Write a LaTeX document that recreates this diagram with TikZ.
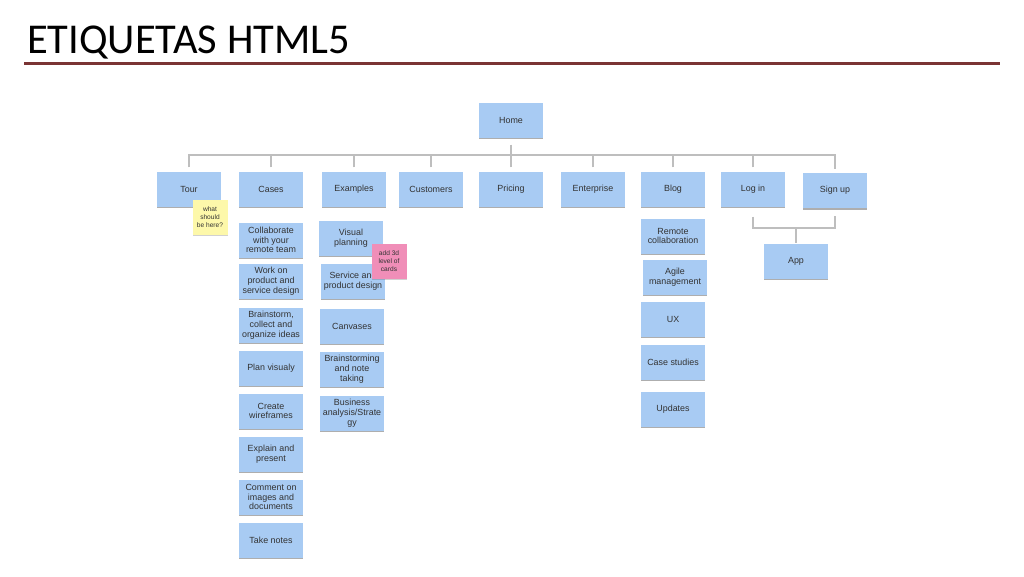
\documentclass[tikz,border=0pt]{standalone}
\usepackage{fontspec}
\setmainfont{Liberation Sans}
\newfontfamily\titlefont{Carlito}
\usetikzlibrary{shadows}
\definecolor{cardblue}{RGB}{168,203,243}
\definecolor{noteyellow}{RGB}{253,248,170}
\definecolor{notepink}{RGB}{240,142,184}
\definecolor{rulered}{RGB}{122,52,52}
\definecolor{linkgray}{RGB}{190,190,190}
\begin{document}
\begin{tikzpicture}[x=1pt,y=-1pt,
	card/.style={fill=cardblue,minimum width=64pt,minimum height=35pt,inner sep=1pt,align=center,
		font=\fontsize{8.9}{9.8}\selectfont,text=black!80,
		drop shadow={shadow xshift=0pt,shadow yshift=-1.5pt,opacity=.45,fill=black!70}},
	note/.style={minimum width=35pt,minimum height=35pt,inner sep=1pt,align=center,
		font=\fontsize{6.6}{8.2}\selectfont,text=black!80,
		drop shadow={shadow xshift=0pt,shadow yshift=-1.5pt,opacity=.3,fill=black!60}},
	link/.style={draw=linkgray,line width=1.2pt}]
	\useasboundingbox (0,0) rectangle (1024,576);
	% title
	\node[anchor=base west,inner sep=0pt,font=\titlefont\fontsize{42.5}{42.5}\selectfont] (title) at (27,53.5){ETIQUETAS HTML5};
	\fill[rulered] (24,61.5) rectangle (1000,65);
	% top level
	\node[card] (home) at (511,120){Home};
	\node[card] (tour) at (189,189){Tour};
	\node[card] (cases) at (271,189){Cases};
	\node[card] (examples) at (354,189){Examples};
	\node[card] (customers) at (431,189){Customers};
	\node[card] (pricing) at (511,189){Pricing};
	\node[card] (enterprise) at (593,189){Enterprise};
	\node[card] (blog) at (673,189){Blog};
	\node[card] (login) at (753,189){Log in};
	\node[card] (signup) at (835,190.5){Sign up};
	\node[card] (app) at (796,261){App};
	\coordinate (bus) at (511,155);
	\coordinate (join) at (796,228);
	\draw[link,shorten <=7pt] (home) -- (bus);
	\foreach \n in {tour,cases,examples,customers,pricing,enterprise,blog,login,signup}
		\draw[link,shorten <=4pt] (\n.north) |- (bus);
	\draw[link,shorten <=10pt] (login.south) |- (join);
	\draw[link,shorten <=8pt] (signup.south) |- (join);
	\draw[link] (join) -- (app);
	% cases
	\node[card] (ca1) at (271,240){Collaborate\\with your\\remote team};
	\node[card] (ca2) at (271,281){Work on\\product and\\service design};
	\node[card] (ca3) at (271,325){Brainstorm,\\collect and\\organize ideas};
	\node[card] (ca4) at (271,368){Plan visualy};
	\node[card] (ca5) at (271,411){Create\\wireframes};
	\node[card] (ca6) at (271,454){Explain and\\present};
	\node[card] (ca7) at (271,497){Comment on\\images and\\documents};
	\node[card] (ca8) at (271,540){Take notes};
	% examples
	\node[card] (ex1) at (351,238){Visual\\planning};
	\node[card] (ex2) at (353,281){Service and\\product design};
	\node[card] (ex3) at (352,326){Canvases};
	\node[card] (ex4) at (352,369){Brainstorming\\and note\\taking};
	\node[card] (ex5) at (352,413){Business\\analysis/Strate\\gy};
	% blog
	\node[card] (bl1) at (673,236){Remote\\collaboration};
	\node[card] (bl2) at (675,277){Agile\\management};
	\node[card] (bl3) at (673,319){UX};
	\node[card] (bl4) at (673,362){Case studies};
	\node[card] (bl5) at (673,409){Updates};
	% sticky notes
	\node[note,fill=noteyellow] (ask) at (210,217){what\\should\\be here?};
	\node[note,fill=notepink] (add) at (389,261){add 3d\\level of\\cards};
\end{tikzpicture}
\end{document}
